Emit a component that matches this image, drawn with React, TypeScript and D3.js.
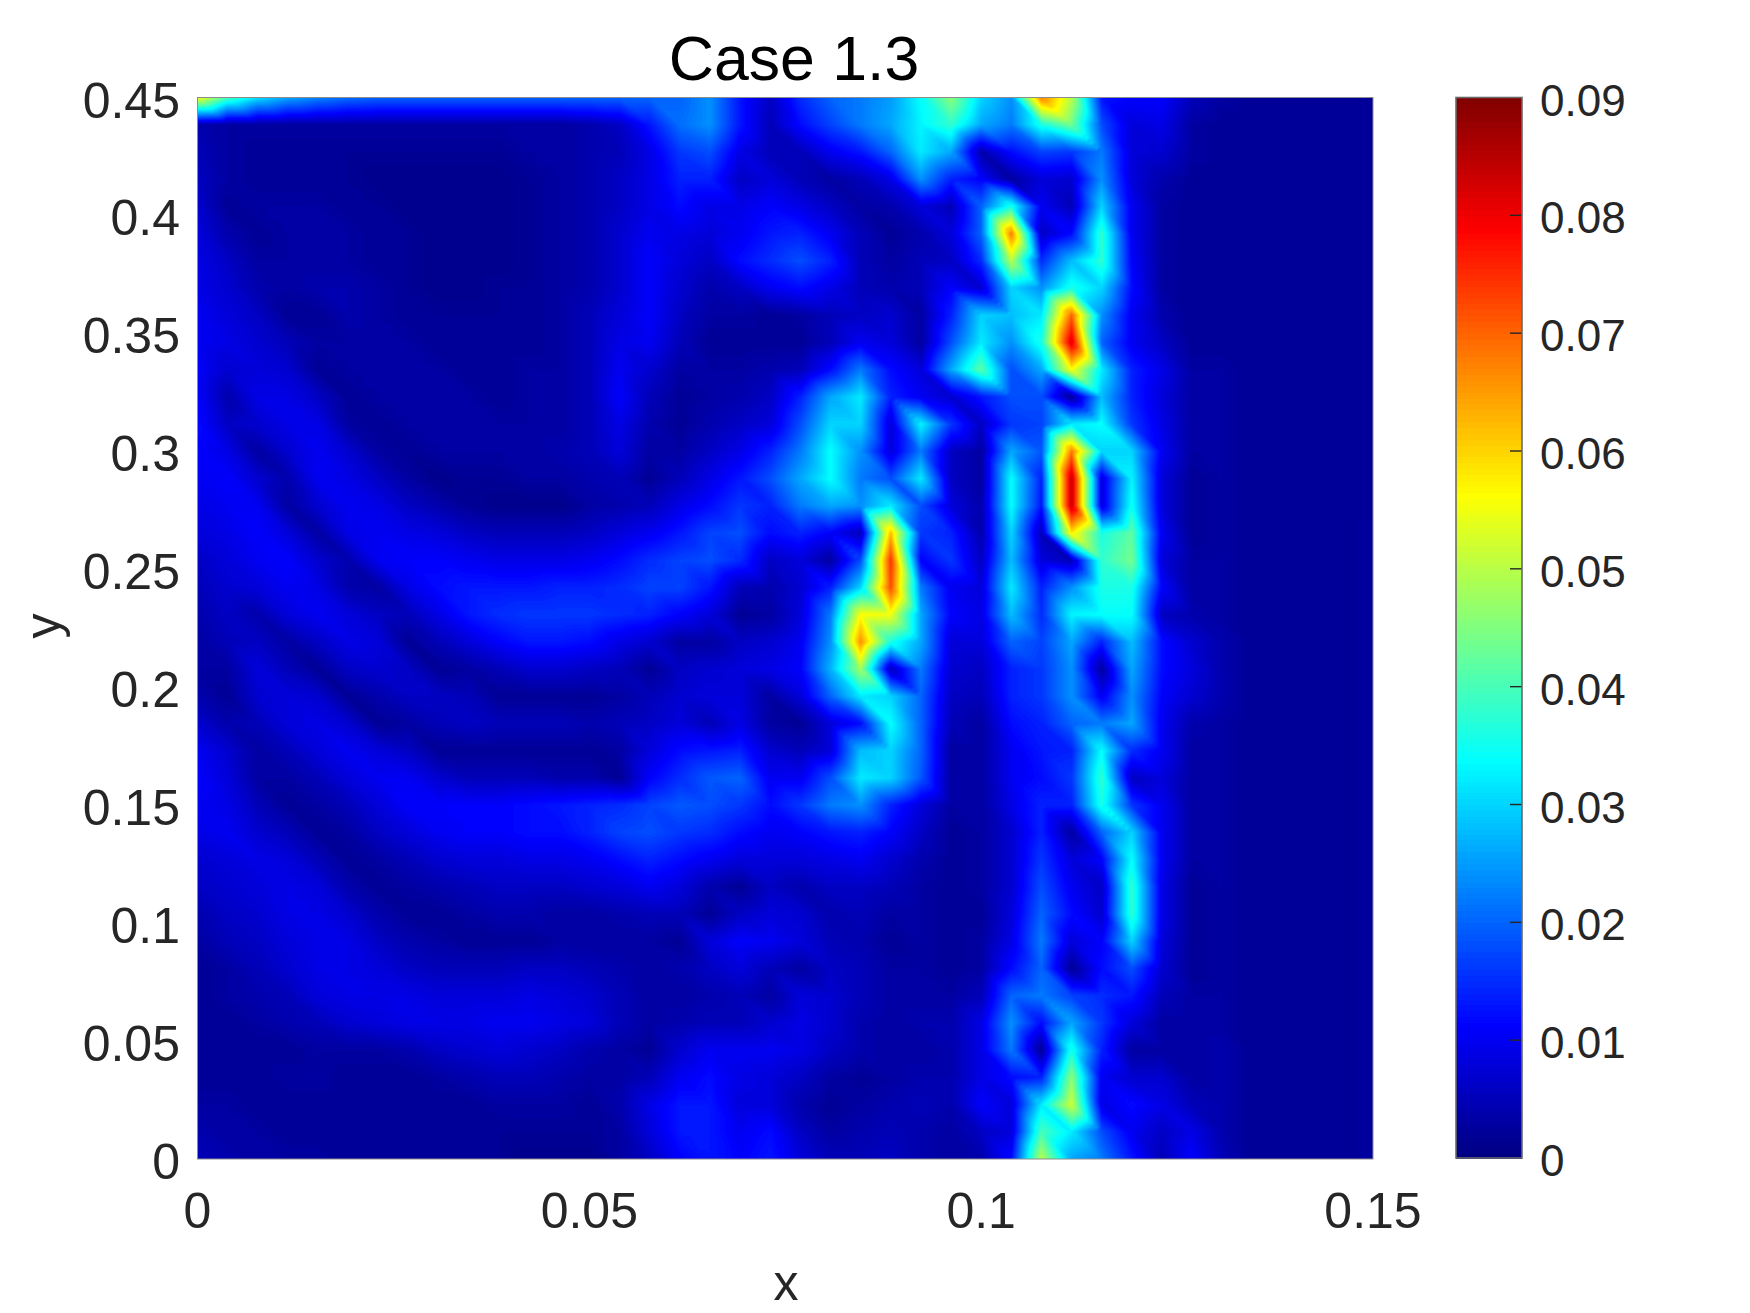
import React, { useMemo } from "react";
import * as d3 from "d3";

// Field values, in units of 0.001. Rows run from y = 0.45 (top) to y = 0 (bottom), 40 nodes in x.
const r39 = [56,40,31,26,23,21,20,20,20,20,20,20,20,20,20,20,20,24,13,6,15,20,22,25,34,46,30,24,68,50,13,11,11,5,3,2,2,2,2,2];
const r38 = [4,3,3,3,3,3,3,3,3,3,3,3,3,4,6,13,21,24,13,5,12,17,22,26,33,38,26,22,36,44,18,8,9,3,2,2,2,2,2,2];
const r37 = [5,3,2,2,2,2,2,2,2,2,2,3,3,4,5,9,16,18,9,5,5,10,13,20,32,26,4,12,17,16,22,8,7,3,2,2,2,2,2,2];
const r36 = [6,3,2,2,2,2,1,1,1,1,1,2,3,4,6,9,14,14,6,8,5,3,5,9,24,14,11,3,8,7,24,8,4,2,2,2,2,2,2,2];
const r35 = [7,2,3,3,3,2,2,1,1,1,1,2,3,4,6,9,12,9,9,11,9,6,3,4,8,5,20,36,10,5,30,10,3,2,2,2,2,2,2,2];
const r34 = [8,4,2,3,3,3,2,2,1,1,1,2,3,4,7,10,9,8,10,13,14,10,5,2,4,8,20,68,6,12,38,10,3,2,2,2,2,2,2,2];
const r33 = [9,6,3,3,3,3,2,2,1,1,1,2,3,4,7,11,8,6,12,15,18,14,5,3,5,6,15,50,15,28,38,11,3,2,2,2,2,2,2,2];
const r32 = [9,7,4,3,4,4,3,2,1,1,2,2,3,4,7,11,7,4,6,10,12,9,5,4,5,11,7,30,24,36,30,12,3,2,2,2,2,2,2,2];
const r31 = [10,8,6,2,2,4,3,2,2,2,2,2,3,5,8,11,6,3,3,2,3,5,6,7,3,14,30,28,32,70,24,10,4,2,2,2,2,2,2,2];
const r30 = [10,9,7,5,3,3,3,3,2,2,2,2,3,5,9,10,5,2,2,2,2,5,10,8,3,18,32,24,36,82,20,10,6,2,2,2,2,2,2,2];
const r29 = [11,7,8,7,2,3,3,3,3,2,2,3,3,5,10,7,3,3,3,4,5,12,22,12,8,26,42,18,26,56,32,14,9,3,3,2,2,2,2,2];
const r28 = [11,4,9,9,6,2,3,3,3,3,2,3,3,5,11,5,2,3,4,6,14,26,32,14,10,7,13,18,18,2,28,14,8,3,3,2,2,2,2,2];
const r27 = [12,6,7,9,9,3,2,3,3,3,3,3,3,5,9,4,2,4,6,8,18,30,30,8,33,16,6,16,17,32,34,16,9,3,3,2,2,2,2,2];
const r26 = [11,9,3,7,10,7,3,2,3,3,3,3,4,5,8,3,3,6,9,14,22,34,24,8,22,6,3,26,19,68,30,30,10,3,3,2,2,2,2,2];
const r25 = [10,11,7,4,10,9,6,3,1,2,2,3,3,4,5,2,5,9,13,18,26,34,22,18,32,6,3,34,14,84,8,33,8,2,3,2,2,2,2,2];
const r24 = [9,10,10,3,7,10,9,6,4,2,1,1,1,3,4,5,9,12,16,14,22,26,24,32,18,8,4,34,13,84,8,35,8,2,3,2,2,2,2,2];
const r23 = [8,9,11,8,3,9,10,9,8,6,5,5,5,6,8,10,13,17,18,12,14,11,5,62,16,14,4,30,5,58,36,42,10,2,3,2,2,2,2,3];
const r22 = [6,8,10,11,7,4,10,11,11,10,9,9,9,10,12,15,17,18,15,6,8,3,18,74,11,16,6,28,8,5,38,44,8,3,3,2,2,2,2,3];
const r21 = [5,7,8,10,9,4,3,9,12,13,13,13,14,14,15,17,17,13,5,4,7,14,30,72,22,10,8,32,14,24,36,36,11,3,3,2,2,2,2,3];
const r20 = [4,6,4,8,10,8,6,5,9,13,15,16,16,16,15,14,11,8,2,3,8,22,56,55,26,11,9,28,15,33,34,34,6,4,3,2,2,2,2,3];
const r19 = [3,5,6,3,6,9,8,2,5,8,11,13,13,12,9,7,3,3,6,7,10,24,66,36,26,8,8,20,17,26,14,28,12,7,4,2,2,2,2,3];
const r18 = [3,3,8,5,2,6,7,6,2,3,5,7,7,6,5,2,6,7,8,9,11,27,48,5,22,7,6,14,16,24,3,26,12,8,4,2,2,2,2,3];
const r17 = [4,2,7,8,7,2,4,6,6,5,2,2,2,2,3,5,7,8,8,3,8,20,32,30,20,6,5,14,16,24,10,24,11,7,4,2,2,2,2,3];
const r16 = [7,4,5,8,9,7,2,3,5,6,5,5,5,4,5,6,8,5,9,3,2,8,12,34,20,5,3,12,14,20,22,26,10,4,3,2,2,2,2,3];
const r15 = [10,7,3,5,8,10,8,6,2,2,2,2,2,2,3,8,12,13,14,7,5,8,28,30,20,3,3,10,13,14,34,15,10,3,3,2,2,2,2,3];
const r14 = [11,8,3,3,5,8,10,10,7,5,5,5,4,4,2,11,15,19,20,10,10,18,32,30,19,3,3,10,12,16,38,6,8,3,3,2,2,2,2,3];
const r13 = [10,9,5,2,3,5,8,11,11,11,11,12,13,14,15,17,19,18,16,12,16,22,24,14,8,3,3,9,14,14,36,16,10,3,3,2,2,2,2,3];
const r12 = [9,10,7,5,2,3,6,8,10,11,11,12,12,14,17,18,16,15,12,10,11,13,14,11,6,2,3,7,14,3,20,30,10,3,3,2,2,2,2,3];
const r11 = [7,8,9,8,5,2,3,5,7,8,8,9,9,10,12,14,12,10,8,8,8,9,10,7,4,2,3,7,16,8,11,34,10,3,3,2,2,2,2,3];
const r10 = [6,7,8,9,8,4,2,3,4,5,6,6,6,7,8,10,8,4,2,6,4,6,6,5,3,2,3,7,18,10,6,38,9,2,3,2,2,2,2,3];
const r9 = [4,6,7,9,9,7,4,2,2,3,4,4,3,3,4,5,5,2,6,8,7,4,5,3,3,2,2,8,20,12,7,38,9,2,3,2,2,2,2,3];
const r8 = [3,5,6,8,9,9,6,4,3,2,2,2,3,3,3,3,2,8,11,10,8,5,4,2,3,2,3,9,22,8,11,30,8,2,3,2,2,2,2,3];
const r7 = [2,3,5,7,9,9,8,6,5,5,5,6,6,5,4,3,4,6,8,5,3,6,5,3,3,2,3,12,20,2,12,18,7,2,3,2,2,2,2,3];
const r6 = [2,3,4,5,8,9,9,9,8,8,8,9,8,7,5,3,3,4,5,3,8,7,5,3,3,3,5,20,22,17,15,13,5,3,3,2,2,2,2,3];
const r5 = [2,2,3,4,5,7,8,9,9,9,10,10,9,8,5,3,4,5,5,7,9,7,4,3,4,4,9,24,12,26,16,8,3,3,3,2,2,2,2,3];
const r4 = [2,2,2,2,3,3,3,4,6,7,8,7,6,4,3,2,7,10,10,10,9,6,4,3,3,4,9,22,2,36,14,3,3,3,4,2,2,2,2,3];
const r3 = [2,2,2,3,3,2,2,2,3,4,5,5,4,3,3,5,10,12,9,8,6,3,2,3,4,4,9,12,14,46,10,7,7,3,4,2,2,2,2,3];
const r2 = [3,3,2,2,2,2,2,2,2,2,3,3,3,2,4,9,13,13,8,8,4,2,3,4,5,4,11,8,32,52,9,12,9,5,4,2,2,2,2,3];
const r1 = [4,3,3,2,2,2,2,2,2,2,2,2,2,2,3,8,13,13,10,12,6,3,4,5,4,3,6,8,40,32,18,10,6,9,4,2,2,2,2,3];
const r0 = [5,4,3,3,3,2,2,2,2,2,2,1,1,1,3,6,11,13,11,13,8,5,5,6,4,3,4,12,50,26,22,13,5,11,5,2,2,2,2,3];

const rowsTopDown = [r39,r38,r37,r36,r35,r34,r33,r32,r31,r30,r29,r28,r27,r26,r25,r24,r23,r22,r21,r20,r19,r18,r17,r16,r15,r14,r13,r12,r11,r10,r9,r8,r7,r6,r5,r4,r3,r2,r1,r0];

const titleText = "Case 1.3";
const xLabelText = "x";
const yLabelText = "y";
const xTickValues = [0, 0.05, 0.1, 0.15];
const xTickLabels = ["0", "0.05", "0.1", "0.15"];
const yTickValues = [0, 0.05, 0.1, 0.15, 0.2, 0.25, 0.3, 0.35, 0.4, 0.45];
const yTickLabels = ["0", "0.05", "0.1", "0.15", "0.2", "0.25", "0.3", "0.35", "0.4", "0.45"];
const cTickValues = [0, 0.01, 0.02, 0.03, 0.04, 0.05, 0.06, 0.07, 0.08, 0.09];
const cTickLabels = ["0", "0.01", "0.02", "0.03", "0.04", "0.05", "0.06", "0.07", "0.08", "0.09"];

const FONT = "'Liberation Sans', Arial, sans-serif";
const plot = { left: 197.5, right: 1373, top: 97.5, bottom: 1159 };
const bar = { left: 1456, right: 1522, top: 97.5, bottom: 1158 };
const UP = 6;
const STEP = 0.5;

function jet(t: number): string {
  const c = (v: number) => Math.round(255 * Math.max(0, Math.min(1, v)));
  return `rgb(${c(1.5 - Math.abs(4 * t - 3))},${c(1.5 - Math.abs(4 * t - 2))},${c(1.5 - Math.abs(4 * t - 1))})`;
}

// Resample the mesh on a fine lattice, linear on each triangle (diagonal from upper left to lower right).
function refine(rows: number[][], up: number) {
  const nRow = rows.length, nCol = rows[0].length;
  const w = (nCol - 1) * up + 1, h = (nRow - 1) * up + 1;
  const out = new Float64Array(w * h);
  for (let fy = 0; fy < h; fy++) {
    const j = Math.min(Math.floor(fy / up), nRow - 2), v = fy / up - j;
    for (let fx = 0; fx < w; fx++) {
      const i = Math.min(Math.floor(fx / up), nCol - 2), u = fx / up - i;
      const a = rows[j][i], b = rows[j][i + 1], c = rows[j + 1][i], d = rows[j + 1][i + 1];
      out[fy * w + fx] = u >= v ? a + (b - a) * u + (d - b) * v : a + (d - c) * u + (c - a) * v;
    }
  }
  return { w, h, out };
}

export default function App() {
  const x = d3.scaleLinear().domain([0, 0.15]).range([plot.left, plot.right]);
  const y = d3.scaleLinear().domain([0, 0.45]).range([plot.bottom, plot.top]);
  const c = d3.scaleLinear().domain([0, 0.09]).range([bar.bottom, bar.top]);

  const bands = useMemo(() => {
    const { w, h, out } = refine(rowsTopDown, UP);
    const thresholds = d3.range(0, 90, STEP);
    const contours = d3.contours().size([w, h]).thresholds(thresholds)(Array.from(out));
    const path = d3.geoPath(
      d3.geoTransform({
        point(px: number, py: number) {
          const dx = ((px - 0.5) / (w - 1)) * 0.15;
          const dy = 0.45 - ((py - 0.5) / (h - 1)) * 0.45;
          this.stream.point(x(dx), y(dy));
        },
      })
    );
    return contours.map((ct: any) => ({ v: ct.value, d: path(ct) || "" }));
  }, []);

  const barLevels = d3.range(0, 90, STEP);

  return (
    <svg width={1750} height={1313} viewBox="0 0 1750 1313"
      style={{ position: "absolute", left: 0, top: 0, display: "block", background: "#fff" }}>
      <defs>
        <clipPath id="plotClip">
          <rect x={plot.left} y={plot.top} width={plot.right - plot.left} height={plot.bottom - plot.top} />
        </clipPath>
      </defs>

      <g clipPath="url(#plotClip)">
        <rect x={plot.left} y={plot.top} width={plot.right - plot.left} height={plot.bottom - plot.top} fill={jet(0)} />
        {bands.map((b) => (
          <path key={b.v} d={b.d} fill={jet((b.v + STEP / 2) / 90)} stroke="none" />
        ))}
      </g>
      <rect x={plot.left} y={plot.top} width={plot.right - plot.left} height={plot.bottom - plot.top}
        fill="none" stroke="#8c8c8c" strokeWidth={1} />

      {barLevels.map((v) => (
        <rect key={v} x={bar.left} width={bar.right - bar.left}
          y={c((v + STEP) / 1000)} height={c(v / 1000) - c((v + STEP) / 1000) + 0.6}
          fill={jet((v + STEP / 2) / 90)} shapeRendering="crispEdges" />
      ))}
      {cTickValues.slice(1, -1).map((v) => (
        <line key={v} x1={bar.right - 12} x2={bar.right} y1={c(v)} y2={c(v)} stroke="#262626" strokeWidth={1.4} />
      ))}
      <rect x={bar.left} y={bar.top} width={bar.right - bar.left} height={bar.bottom - bar.top}
        fill="none" stroke="#6a6a6a" strokeWidth={1.6} />

      <g fontFamily={FONT} fill="#262626">
        {xTickValues.map((v, i) => (
          <text key={v} x={x(v)} y={1228} fontSize={50} textAnchor="middle">{xTickLabels[i]}</text>
        ))}
        {yTickValues.map((v, i) => (
          <text key={v} x={180} y={y(v) + 20} fontSize={50} textAnchor="end">{yTickLabels[i]}</text>
        ))}
        {cTickValues.map((v, i) => (
          <text key={v} x={1540} y={c(v) + 18} fontSize={44}>{cTickLabels[i]}</text>
        ))}
        <text x={786} y={1300} fontSize={50} textAnchor="middle">{xLabelText}</text>
        <text transform="translate(60,626) rotate(-90)" fontSize={50} textAnchor="middle">{yLabelText}</text>
      </g>
      <text x={794} y={80} fontSize={62.6} fontFamily={FONT} textAnchor="middle" fill="#000">{titleText}</text>
    </svg>
  );
}
